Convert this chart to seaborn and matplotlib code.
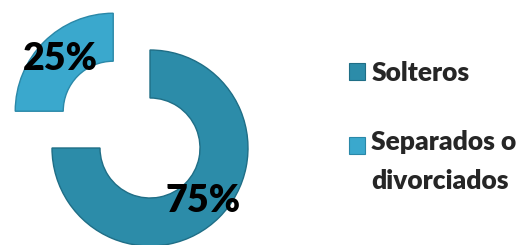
import matplotlib.pyplot as plt
from matplotlib.patches import Patch, Rectangle
from matplotlib.legend_handler import HandlerPatch
import seaborn as sns

# data
categories = ["Solteros", "Separados o\ndivorciados"]
shares = [75, 25]

sns.set_theme(style="white")
plt.rcParams["font.family"] = ["Lato", "DejaVu Sans"]

colors = ["#2C8CA9", "#3AA8CD"]
edge_colors = ["#1F6E86", "#2A88A8"]


class SquareHandler(HandlerPatch):
    """square legend key, optionally lifted to sit on the first text line"""

    def __init__(self, shift=0, **kw):
        self.shift = shift
        super().__init__(**kw)

    def create_artists(self, legend, orig_handle, xdescent, ydescent,
                       width, height, fontsize, trans):
        p = Rectangle((-xdescent, -ydescent + self.shift), width, height)
        self.update_prop(p, orig_handle, legend)
        p.set_transform(trans)
        return [p]


fig = plt.figure(figsize=(5.24, 2.45), dpi=100)
ax = fig.add_axes([0, 0, 1, 1])

radius = 98
wedges, texts, autotexts = ax.pie(
    shares,
    startangle=90,
    counterclock=False,
    colors=colors,
    explode=[0, 52],
    radius=radius,
    center=(150, 97),
    autopct="%d%%",
    pctdistance=0.76,
    wedgeprops={"width": 48, "linewidth": 1.0},
    textprops={"fontsize": 27, "fontweight": "heavy", "color": "black"},
    frame=True,
)
for w, ec in zip(wedges, edge_colors):
    w.set_edgecolor(ec)
ax.set_xlim(0, 524)
ax.set_ylim(0, 245)
ax.set_aspect("equal")
ax.axis("off")

handles = [Patch(facecolor=c, edgecolor=ec, linewidth=0.8) for c, ec in zip(colors, edge_colors)]
leg = ax.legend(
    handles,
    categories,
    loc="upper left",
    bbox_to_anchor=(349 / 524, 1 - 61 / 245),
    frameon=False,
    prop={"family": ["Lato", "DejaVu Sans"], "weight": "heavy", "size": 19},
    handlelength=0.6,
    handleheight=0.6,
    handletextpad=0.25,
    labelspacing=1.72,
    borderaxespad=0,
    borderpad=0,
    handler_map={handles[0]: SquareHandler(), handles[1]: SquareHandler(shift=12.5)},
)
for t in leg.get_texts():
    t.set_linespacing(1.75)

fig.savefig("out.png", dpi=100)
